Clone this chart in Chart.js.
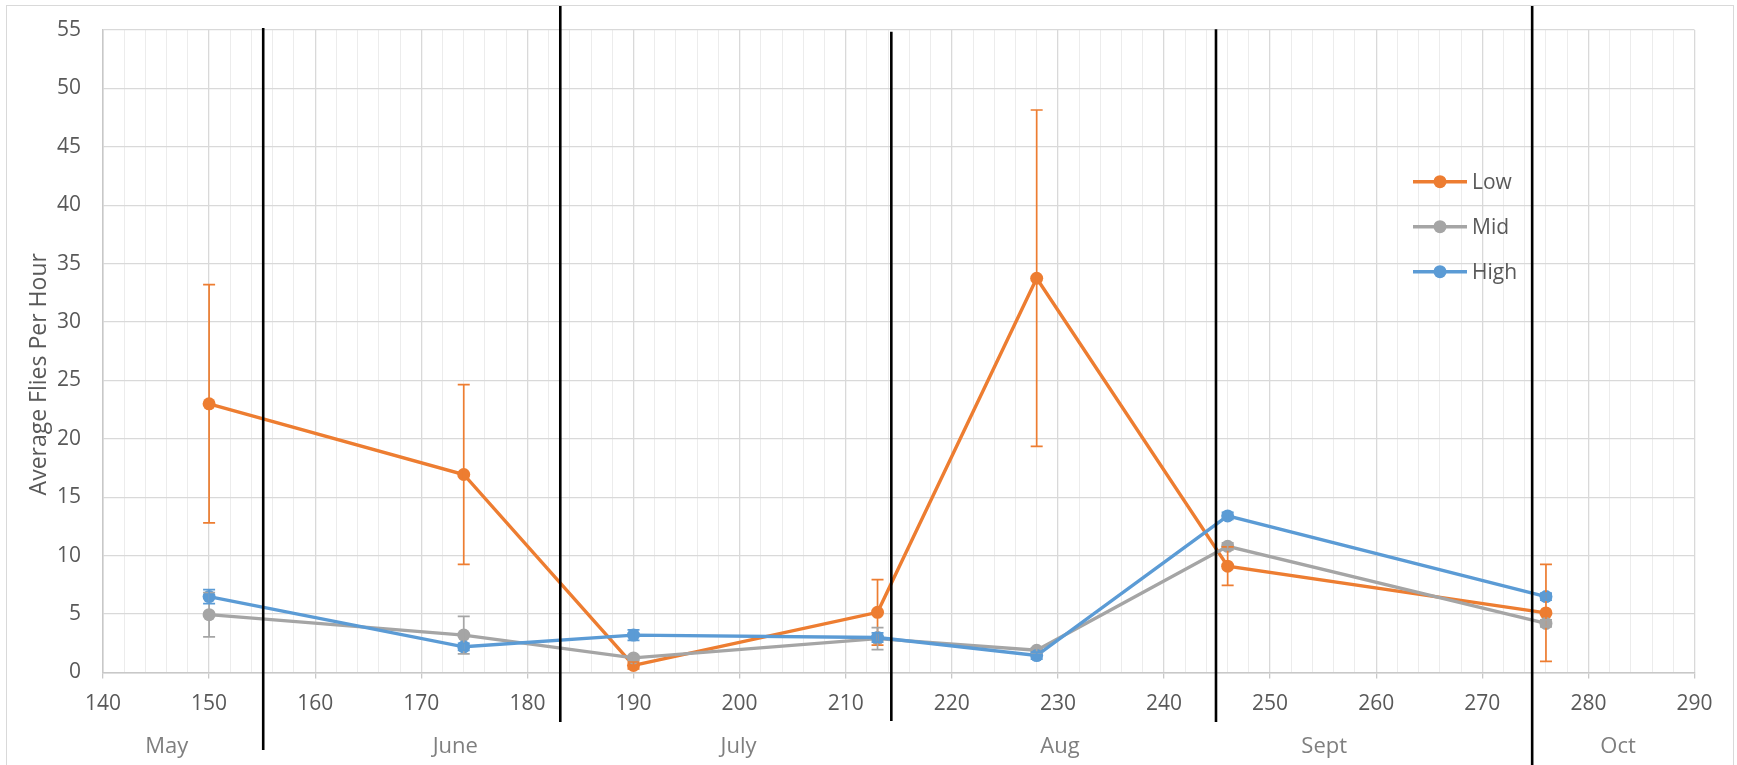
<!DOCTYPE html>
<html>
<head>
<meta charset="utf-8">
<script src="https://cdn.jsdelivr.net/npm/chart.js@4.4.1/dist/chart.umd.min.js"></script>
<style>
    html, body { margin: 0; padding: 0; background: #fff; }
    #wrap { position: relative; width: 1737px; height: 765px; overflow: hidden; }
    #wrap canvas { position: absolute; left: 0; top: 0; }
    #frame {
        position: absolute; left: 6px; top: 5px; width: 1728px; height: 800px;
        border: 1.5px solid #d9d9d9; box-sizing: border-box; pointer-events: none;
    }
</style>
</head>
<body>
<div id="wrap">
    <div id="frame"></div>
    <canvas id="fliesChart" width="1737" height="765"></canvas>
</div>
<script>
// day of year for each sampling date
const days = [150, 174, 190, 213, 228, 246, 276];

const lowMean  = [23.0, 16.95, 0.6, 5.15, 33.75, 9.1, 5.1];
const lowErr   = [10.2, 7.7, 0.3, 2.8, 14.4, 1.65, 4.15];
const midMean  = [4.95, 3.2, 1.25, 2.9, 1.9, 10.8, 4.2];
const midErr   = [1.9, 1.6, 0.2, 0.95, 0.2, 0.3, 0.3];
const highMean = [6.5, 2.2, 3.2, 3.0, 1.45, 13.4, 6.5];
const highErr  = [0.6, 0.3, 0.45, 0.4, 0.3, 0.3, 0.3];

const xMin = 140, xMax = 290, xMinorStep = 2, xMajorStep = 10;
const yMin = 0, yMax = 55, yStep = 5;

const monthNames = ['May', 'June', 'July', 'Aug', 'Sept', 'Oct'];
const monthLabelDay = [146, 173.2, 199.9, 230.2, 255.1, 282.8];
const monthBreakDay = [155.1, 183.1, 214.3, 244.9, 274.7];

const yTitle = 'Average Flies Per Hour';

function toPoints(values) {
    return days.map((d, i) => ({ x: d, y: values[i] }));
}

function series(label, values, errors, color, order) {
    return {
        label: label,
        data: toPoints(values),
        errors: errors,
        borderColor: color,
        backgroundColor: color,
        pointBackgroundColor: color,
        pointBorderColor: color,
        pointBorderWidth: 0,
        pointRadius: 6.5,
        borderWidth: 3.4,
        tension: 0,
        order: order
    };
}

const errorBars = {
    id: 'errorBars',
    afterDatasetsDraw(chart) {
        const { ctx, scales: { x, y } } = chart;
        chart.data.datasets.forEach(ds => {
            ctx.save();
            ctx.strokeStyle = ds.borderColor;
            ctx.lineWidth = 1.7;
            ds.data.forEach((p, i) => {
                const e = ds.errors[i];
                const px = x.getPixelForValue(p.x);
                const top = y.getPixelForValue(p.y + e);
                const bot = y.getPixelForValue(p.y - e);
                ctx.beginPath();
                ctx.moveTo(px, top); ctx.lineTo(px, bot);
                ctx.moveTo(px - 6, top); ctx.lineTo(px + 6, top);
                ctx.moveTo(px - 6, bot); ctx.lineTo(px + 6, bot);
                ctx.stroke();
            });
            ctx.restore();
        });
    }
};

// month separators, month names, legend and y title
const decorations = {
    id: 'decorations',
    afterDraw(chart) {
        const { ctx, chartArea, scales: { x } } = chart;
        const tops = [-2, -24, 1.7, -0.7, -24];
        const bottoms = [77.5, 49.5, 48.5, 49.5, 95];

        ctx.save();
        ctx.strokeStyle = '#000';
        ctx.lineWidth = 2.6;
        monthBreakDay.forEach((d, i) => {
            const px = x.getPixelForValue(d);
            ctx.beginPath();
            ctx.moveTo(px, chartArea.top + tops[i]);
            ctx.lineTo(px, chartArea.bottom + bottoms[i]);
            ctx.stroke();
        });

        ctx.fillStyle = '#7f7f7f';
        ctx.font = '22px "Open Sans"';
        ctx.textAlign = 'center';
        ctx.textBaseline = 'middle';
        monthNames.forEach((m, i) => {
            ctx.fillText(m, x.getPixelForValue(monthLabelDay[i]), chartArea.bottom + 74);
        });

        // legend
        ctx.font = '21px "Open Sans"';
        ctx.textAlign = 'left';
        chart.data.datasets.forEach((ds, i) => {
            const lx = chartArea.left + 1310;
            const ly = chartArea.top + 151.7 + i * 45;
            ctx.strokeStyle = ds.borderColor;
            ctx.lineWidth = 3.4;
            ctx.beginPath();
            ctx.moveTo(lx, ly); ctx.lineTo(lx + 54, ly);
            ctx.stroke();
            ctx.fillStyle = ds.borderColor;
            ctx.beginPath();
            ctx.arc(lx + 27, ly, 6.5, 0, Math.PI * 2);
            ctx.fill();
            ctx.fillStyle = '#595959';
            ctx.fillText(ds.label, lx + 59, ly + 1);
        });

        // y axis title
        ctx.translate(chartArea.left - 64, (chartArea.top + chartArea.bottom) / 2 + 23);
        ctx.rotate(-Math.PI / 2);
        ctx.textAlign = 'center';
        ctx.font = '23px "Open Sans"';
        ctx.fillStyle = '#595959';
        ctx.fillText(yTitle, 0, 0);
        ctx.restore();
    }
};

new Chart(document.getElementById('fliesChart'), {
    type: 'line',
    data: {
        datasets: [
            series('Low', lowMean, lowErr, '#ED7D31', 3),
            series('Mid', midMean, midErr, '#A5A5A5', 2),
            series('High', highMean, highErr, '#5B9BD5', 1)
        ]
    },
    options: {
        responsive: false,
        animation: false,
        events: [],
        layout: { padding: { top: 30, right: 42.5, left: 0, bottom: 0 } },
        plugins: {
            legend: { display: false },
            tooltip: { enabled: false }
        },
        scales: {
            x: {
                type: 'linear',
                min: xMin,
                max: xMax,
                afterFit: s => { s.height = 92.5; },
                ticks: {
                    stepSize: xMinorStep,
                    autoSkip: false,
                    maxRotation: 0,
                    padding: 13,
                    color: '#595959',
                    font: { family: 'Open Sans', size: 21 },
                    callback: v => (v % xMajorStep === 0 ? v : '')
                },
                grid: {
                    color: c => (c.tick && c.tick.value % xMajorStep === 0 ? '#d9d9d9' : '#ececec'),
                    lineWidth: c => (c.tick && c.tick.value % xMajorStep === 0 ? 1.3 : 1),
                    tickColor: c => (c.tick && c.tick.value % xMajorStep === 0 ? '#c8c8c8' : 'rgba(0,0,0,0)'),
                    tickLength: 6
                },
                border: { color: '#c8c8c8', width: 1.5 }
            },
            y: {
                min: yMin,
                max: yMax,
                afterFit: s => {
                    s.width = 103;
                    // tick padding otherwise pushes the plot top down
                    s.paddingTop = 0;
                    s.paddingBottom = 0;
                },
                ticks: {
                    stepSize: yStep,
                    padding: 22,
                    color: '#595959',
                    font: { family: 'Open Sans', size: 21 }
                },
                grid: { color: '#d9d9d9', lineWidth: 1.3, drawTicks: false },
                border: { color: '#c8c8c8', width: 1.5 }
            }
        }
    },
    plugins: [errorBars, decorations]
});
</script>
</body>
</html>
